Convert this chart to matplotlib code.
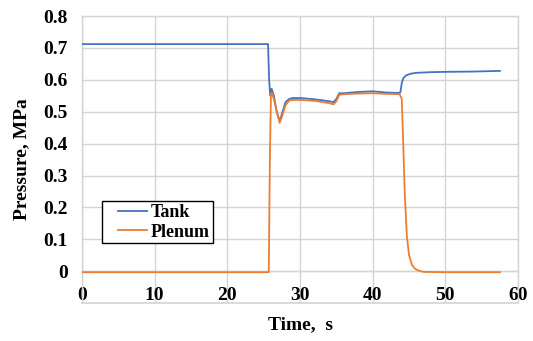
import matplotlib.pyplot as plt
from matplotlib.patches import Rectangle
from matplotlib.lines import Line2D

# time axis and pressure readings (MPa)
tank_t = [0, 25.6, 25.75, 25.9, 26.1, 26.4, 26.8, 27.2, 27.6, 28.0, 28.5, 29, 30, 32, 34,
          34.6, 35.0, 35.4, 36, 38, 40, 42, 43.5, 43.8, 44.0, 44.2, 44.6, 45.2, 46, 48, 50, 54, 57.5]
tank_p = [0.712, 0.712, 0.60, 0.55, 0.572, 0.55, 0.50, 0.47, 0.50, 0.53, 0.540, 0.543, 0.543,
          0.539, 0.533, 0.530, 0.540, 0.558, 0.558, 0.562, 0.564, 0.560, 0.559, 0.560, 0.59,
          0.605, 0.614, 0.619, 0.622, 0.624, 0.625, 0.626, 0.628]

plenum_t = [0, 25.7, 25.85, 26.0, 26.1, 26.4, 26.8, 27.2, 27.6, 28.0, 28.5, 29, 30, 32, 34,
            34.6, 35.0, 35.4, 36, 38, 40, 42, 43.7, 44.0, 44.2, 44.4, 44.7, 45.0, 45.4, 45.8,
            46.3, 47, 50, 57.5]
plenum_p = [-0.003, -0.003, 0.35, 0.55, 0.56, 0.54, 0.50, 0.465, 0.49, 0.52, 0.535, 0.537,
            0.537, 0.534, 0.527, 0.523, 0.533, 0.553, 0.555, 0.557, 0.558, 0.556, 0.555, 0.54,
            0.40, 0.25, 0.11, 0.05, 0.02, 0.008, 0.002, -0.002, -0.003, -0.003]

x_ticks = [0, 10, 20, 30, 40, 50, 60]
y_ticks = [-0.1, 0, 0.1, 0.2, 0.3, 0.4, 0.5, 0.6, 0.7, 0.8]
y_labels = ['', '0', '0.1', '0.2', '0.3', '0.4', '0.5', '0.6', '0.7', '0.8']

plt.rcParams['font.family'] = ['Liberation Serif', 'DejaVu Serif']
plt.rcParams['font.weight'] = 'bold'

fig = plt.figure(figsize=(5.33, 3.41), dpi=100)
ax = fig.add_axes([0.1538, 0.111, 0.8182, 0.842])

grid_c = '#d4d4d4'
ax.plot(tank_t, tank_p, color='#4472C4', lw=1.3, label='Tank', zorder=3)
ax.plot(plenum_t, plenum_p, color='#ED7D31', lw=1.3, label='Plenum', zorder=3)

ax.set_xlim(0, 60)
ax.set_ylim(-0.1, 0.8)
ax.set_xticks(x_ticks)
ax.set_yticks(y_ticks)
ax.set_yticklabels(y_labels)
ax.grid(color=grid_c, linewidth=1.0)
ax.set_axisbelow(True)

# x axis crosses at zero, labels sit just below it
ax.spines['bottom'].set_position(('data', 0))
for s in ax.spines.values():
    s.set_color(grid_c)
    s.set_linewidth(1.0)
ax.tick_params(length=0, labelsize=14)
ax.tick_params(axis='x', pad=11)
ax.tick_params(axis='y', pad=10)

# bottom border of the plot area
fig.add_artist(Line2D([0.1538, 0.972], [0.112, 0.112], color=grid_c, lw=1.2))

ax.set_xlabel('Time,  s', fontsize=14, fontweight='bold')
ax.xaxis.set_label_coords(0.5, -0.045)
ax.set_ylabel('Pressure, MPa', fontsize=14, fontweight='bold')
ax.yaxis.set_label_coords(-0.118, 0.5)

# legend box drawn separately so it keeps wide side margins
ax.add_patch(Rectangle((0.046, 0.209), 0.254, 0.146, transform=ax.transAxes,
                       facecolor='white', edgecolor='black', lw=1.0, zorder=4))
leg = ax.legend(loc='center left', bbox_to_anchor=(0.082, 0.282), fontsize=13,
                frameon=False, handlelength=1.6, handletextpad=0.2,
                borderpad=0, labelspacing=0.15, borderaxespad=0)
leg.set_zorder(5)

fig.savefig('out.png', dpi=100)
